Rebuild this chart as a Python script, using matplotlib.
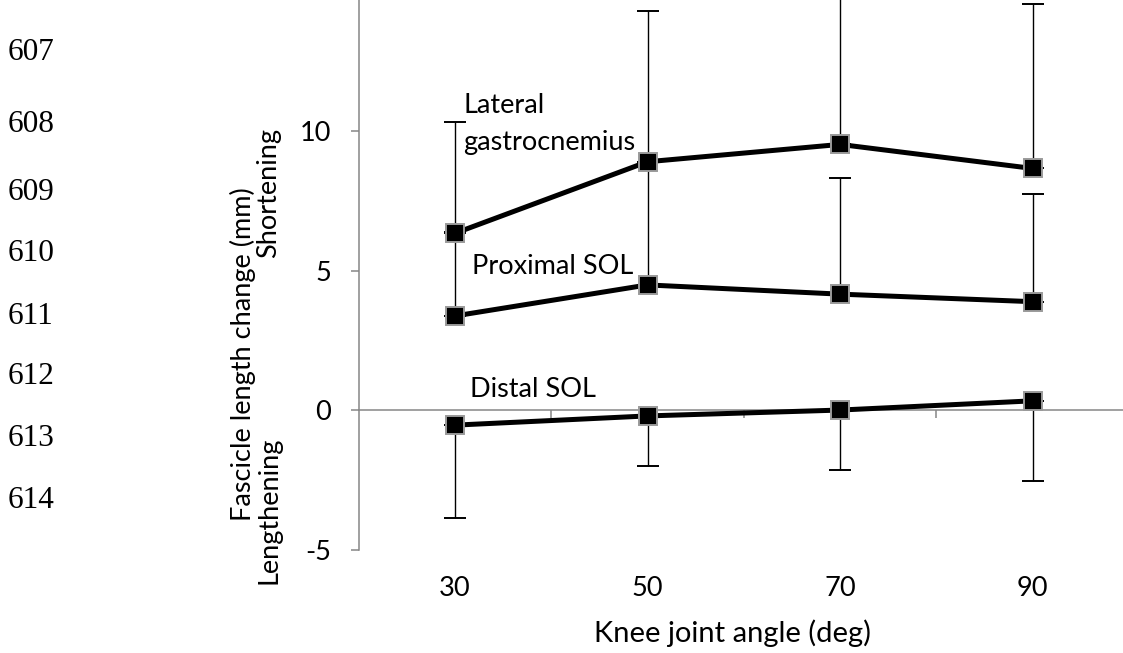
import matplotlib
matplotlib.use("Agg")
import matplotlib.pyplot as plt
import numpy as np

# ---------------- data ----------------
angles = ["30", "50", "70", "90"]
lg_mean = [6.34, 8.90, 9.52, 8.66]          # Lateral gastrocnemius
lg_sd = [3.98, 5.40, 6.50, 5.89]            # upper error only
psol_mean = [3.38, 4.49, 4.16, 3.89]        # Proximal SOL
psol_sd = [3.00, 4.40, 4.17, 3.85]          # upper error only
dsol_mean = [-0.53, -0.20, 0.01, 0.34]      # Distal SOL
dsol_sd = [3.32, 1.80, 2.16, 2.88]          # lower error only

yticks = [-5, 0, 5, 10]
line_numbers = ["607", "608", "609", "610", "611", "612", "613", "614"]
line_number_y = [52, 125, 192, 254, 316, 377, 439, 500]

# ---------------- figure ----------------
W, H = 1123, 653
fig = plt.figure(figsize=(W / 100, H / 100), dpi=100)

def fx(px):
    return px / W

def fy(py):
    return 1 - py / H

FONT = "Lato"
GREY = "#868686"
FS = 19.5

ax_left, ax_right = 358.75, 1128.75
ax_top, ax_bottom = -8.65, 550.0
ax = fig.add_axes([fx(ax_left), fy(ax_bottom), (ax_right - ax_left) / W, (ax_bottom - ax_top) / H])
ax.set_xlim(-0.5, 3.5)
ax.set_ylim(-5, 15)

x = np.arange(len(angles))

def series(mean, sd, upper):
    mean = np.asarray(mean)
    sd = np.asarray(sd)
    z = np.zeros_like(sd)
    yerr = [z, sd] if upper else [sd, z]
    ax.errorbar(x, mean, yerr=yerr, fmt="none", ecolor="black", elinewidth=1.0,
                capsize=8, capthick=1.4, zorder=2)
    ax.plot(x, mean, color="black", lw=3.6, marker="s", markersize=12.3,
            markerfacecolor="black", markeredgecolor="#9a9a9a", markeredgewidth=1.4,
            zorder=3)

series(lg_mean, lg_sd, True)
series(psol_mean, psol_sd, True)
series(dsol_mean, dsol_sd, False)

# spines
for s in ["top", "right", "bottom"]:
    ax.spines[s].set_visible(False)
ax.spines["left"].set_color(GREY)
ax.spines["left"].set_linewidth(1.1)

# y ticks
ax.set_yticks(yticks)
ax.set_yticklabels([str(v) for v in yticks], fontfamily=FONT, fontsize=FS)
ax.tick_params(axis="y", direction="out", length=5.8, width=1.1, color=GREY, pad=14)

# x tick labels at the bottom, no tick marks
ax.set_xticks(x)
ax.set_xticklabels(angles, fontfamily=FONT, fontsize=FS)
ax.tick_params(axis="x", length=0, pad=19)

# horizontal axis line at y=0 with category-boundary ticks
zero_loc = (0 - ax.get_ylim()[0]) / (ax.get_ylim()[1] - ax.get_ylim()[0])
sec = ax.secondary_xaxis(zero_loc)
sec.set_xticks(x + 0.5)
sec.set_xticklabels([])
sec.tick_params(axis="x", direction="out", length=5.8, width=1.1, color=GREY)
for s in sec.spines.values():
    s.set_color(GREY)
    s.set_linewidth(1.1)

# axis titles
ax.set_xlabel("Knee joint angle (deg)", fontfamily=FONT, fontsize=FS + 1.5)
ax.xaxis.set_label_coords((732.5 - ax_left) / (ax_right - ax_left),
                          (ax_bottom - 633) / (ax_bottom - ax_top))
ax.xaxis.label.set_va("center")

fig.text(fx(243), fy(354), "Fascicle length change (mm)", rotation=90,
         ha="center", va="center", fontfamily=FONT, fontsize=FS)
fig.text(fx(269), fy(193), "Shortening", rotation=90,
         ha="center", va="center", fontfamily=FONT, fontsize=FS)
fig.text(fx(269), fy(510), "Lengthening", rotation=90,
         ha="center", va="center", fontfamily=FONT, fontsize=FS)

# series labels
ax.text(0.042, 10.64, "Lateral", ha="left", va="baseline",
        fontfamily=FONT, fontsize=FS)
ax.text(0.042, 9.32, "gastrocnemius", ha="left", va="baseline",
        fontfamily=FONT, fontsize=FS)
ax.text(0.087, 4.88, "Proximal SOL", ha="left", va="baseline",
        fontfamily=FONT, fontsize=FS)
ax.text(0.078, 0.48, "Distal SOL", ha="left", va="baseline",
        fontfamily=FONT, fontsize=FS)

# manuscript line numbers
for lab, py in zip(line_numbers, line_number_y):
    fig.text(fx(8), fy(py), lab, ha="left", va="center",
             fontfamily="Liberation Serif", fontsize=22.5)

fig.savefig("out.png", dpi=100)
